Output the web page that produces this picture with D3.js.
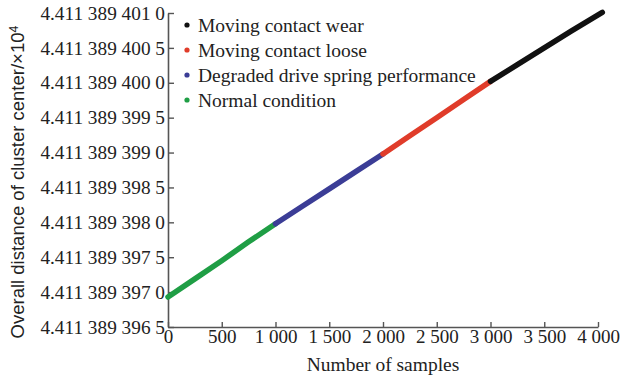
<!DOCTYPE html>
<html>
<head>
<meta charset="utf-8">
<script src="https://cdn.jsdelivr.net/npm/d3@7"></script>
<style>
  html, body { margin: 0; padding: 0; background: #fff; }
  svg { display: block; }
</style>
</head>
<body>
<svg id="chart" width="620" height="378"></svg>
<script>
// Sample index (x) and overall distance of cluster center (×10^4) for each condition
const normalX   = [0, 250, 500, 750, 1000];
const normalY   = [4.41138939693, 4.41138939719, 4.41138939745, 4.41138939772, 4.41138939798];
const springX   = [1000, 1250, 1500, 1750, 2000];
const springY   = [4.41138939798, 4.41138939823, 4.41138939848, 4.41138939873, 4.41138939898];
const looseX    = [2000, 2250, 2500, 2750, 3000];
const looseY    = [4.41138939898, 4.41138939924, 4.41138939950, 4.41138939976, 4.41138940002];
const wearX     = [3000, 3250, 3500, 3750, 4040];
const wearY     = [4.41138940002, 4.41138940026, 4.41138940050, 4.41138940074, 4.41138940101];

const seriesNames  = ["Moving contact wear", "Moving contact loose", "Degraded drive spring performance", "Normal condition"];
const seriesColors = ["#111111", "#e03c2a", "#3b3d96", "#1f9e45"];

const xTicks = [0, 500, 1000, 1500, 2000, 2500, 3000, 3500, 4000];
const yTicks = [4.4113893965, 4.4113893970, 4.4113893975, 4.4113893980, 4.4113893985,
                4.4113893990, 4.4113893995, 4.4113894000, 4.4113894005, 4.4113894010];

const svg = d3.select("#chart");
const margin = { left: 168, right: 22, top: 13, bottom: 51 };
const W = 620, H = 378;

const x = d3.scaleLinear().domain([0, 4000]).range([margin.left, W - margin.right]);
const y = d3.scaleLinear().domain([yTicks[0], yTicks[yTicks.length - 1]]).range([H - margin.bottom, margin.top]);

// digits grouped in threes after the decimal point: 4.411 389 401 0
function fmtY(v) {
  const s = v.toFixed(10);
  const [intPart, frac] = s.split(".");
  const groups = frac.match(/.{1,3}/g);
  return intPart + "." + groups.join(" ");
}
function fmtX(v) {
  return v >= 1000 ? Math.floor(v / 1000) + " " + String(v % 1000).padStart(3, "0") : String(v);
}

const axisColor = "#555";
const serif = "'Liberation Serif', 'Times New Roman', serif";

// x axis (ticks point inward)
const gx = svg.append("g")
  .attr("transform", `translate(0,${H - margin.bottom})`)
  .call(d3.axisBottom(x).tickValues(xTicks).tickFormat(fmtX).tickSizeInner(-5).tickSizeOuter(0).tickPadding(4));
gx.select(".domain").attr("stroke", axisColor).attr("stroke-width", 1.6);
gx.selectAll(".tick line").attr("stroke", axisColor).attr("stroke-width", 1.4);
gx.selectAll(".tick text").attr("font-family", serif).attr("font-size", 19).attr("fill", "#222").attr("dy", "0.78em").attr("y", 1);

// y axis (ticks point inward)
const gy = svg.append("g")
  .attr("transform", `translate(${margin.left},0)`)
  .call(d3.axisLeft(y).tickValues(yTicks).tickFormat(fmtY).tickSizeInner(-6).tickSizeOuter(0).tickPadding(4));
gy.select(".domain").attr("stroke", axisColor).attr("stroke-width", 1.6);
gy.selectAll(".tick line").attr("stroke", axisColor).attr("stroke-width", 1.4);
gy.selectAll(".tick text").attr("font-family", serif).attr("font-size", 19.3).attr("fill", "#222").attr("x", -3);

// data segments
const line = d3.line().x(d => x(d[0])).y(d => y(d[1]));
const segments = [
  { xs: normalX, ys: normalY, color: seriesColors[3] },
  { xs: springX, ys: springY, color: seriesColors[2] },
  { xs: looseX,  ys: looseY,  color: seriesColors[1] },
  { xs: wearX,   ys: wearY,   color: seriesColors[0] }
];
segments.forEach(s => {
  svg.append("path")
    .datum(s.xs.map((v, i) => [v, s.ys[i]]))
    .attr("d", line)
    .attr("fill", "none")
    .attr("stroke", s.color)
    .attr("stroke-width", 5.5)
    .attr("stroke-linecap", "round")
    .attr("stroke-linejoin", "round");
});

// legend
const legend = svg.append("g");
seriesNames.forEach((name, i) => {
  const cy = 25 + i * 25;
  legend.append("circle").attr("cx", 187).attr("cy", cy).attr("r", 2.6).attr("fill", seriesColors[i]);
  legend.append("text").attr("x", 198).attr("y", cy).attr("dy", "0.35em")
    .attr("font-family", serif).attr("font-size", 19.5).attr("fill", "#222").text(name);
});

// axis titles
svg.append("text")
  .attr("x", (x(0) + x(4000)) / 2).attr("y", 371)
  .attr("text-anchor", "middle")
  .attr("font-family", serif).attr("font-size", 19.5).attr("fill", "#222")
  .text("Number of samples");

const yt = svg.append("text")
  .attr("transform", "translate(24,182) rotate(-90)")
  .attr("text-anchor", "middle")
  .attr("font-family", "'Liberation Sans', Arial, sans-serif").attr("font-size", 18.5).attr("fill", "#222");
yt.append("tspan").text("Overall distance of cluster center/\u00d710");
yt.append("tspan").attr("dy", "-0.45em").attr("font-size", 12.5).text("4");
</script>
</body>
</html>
